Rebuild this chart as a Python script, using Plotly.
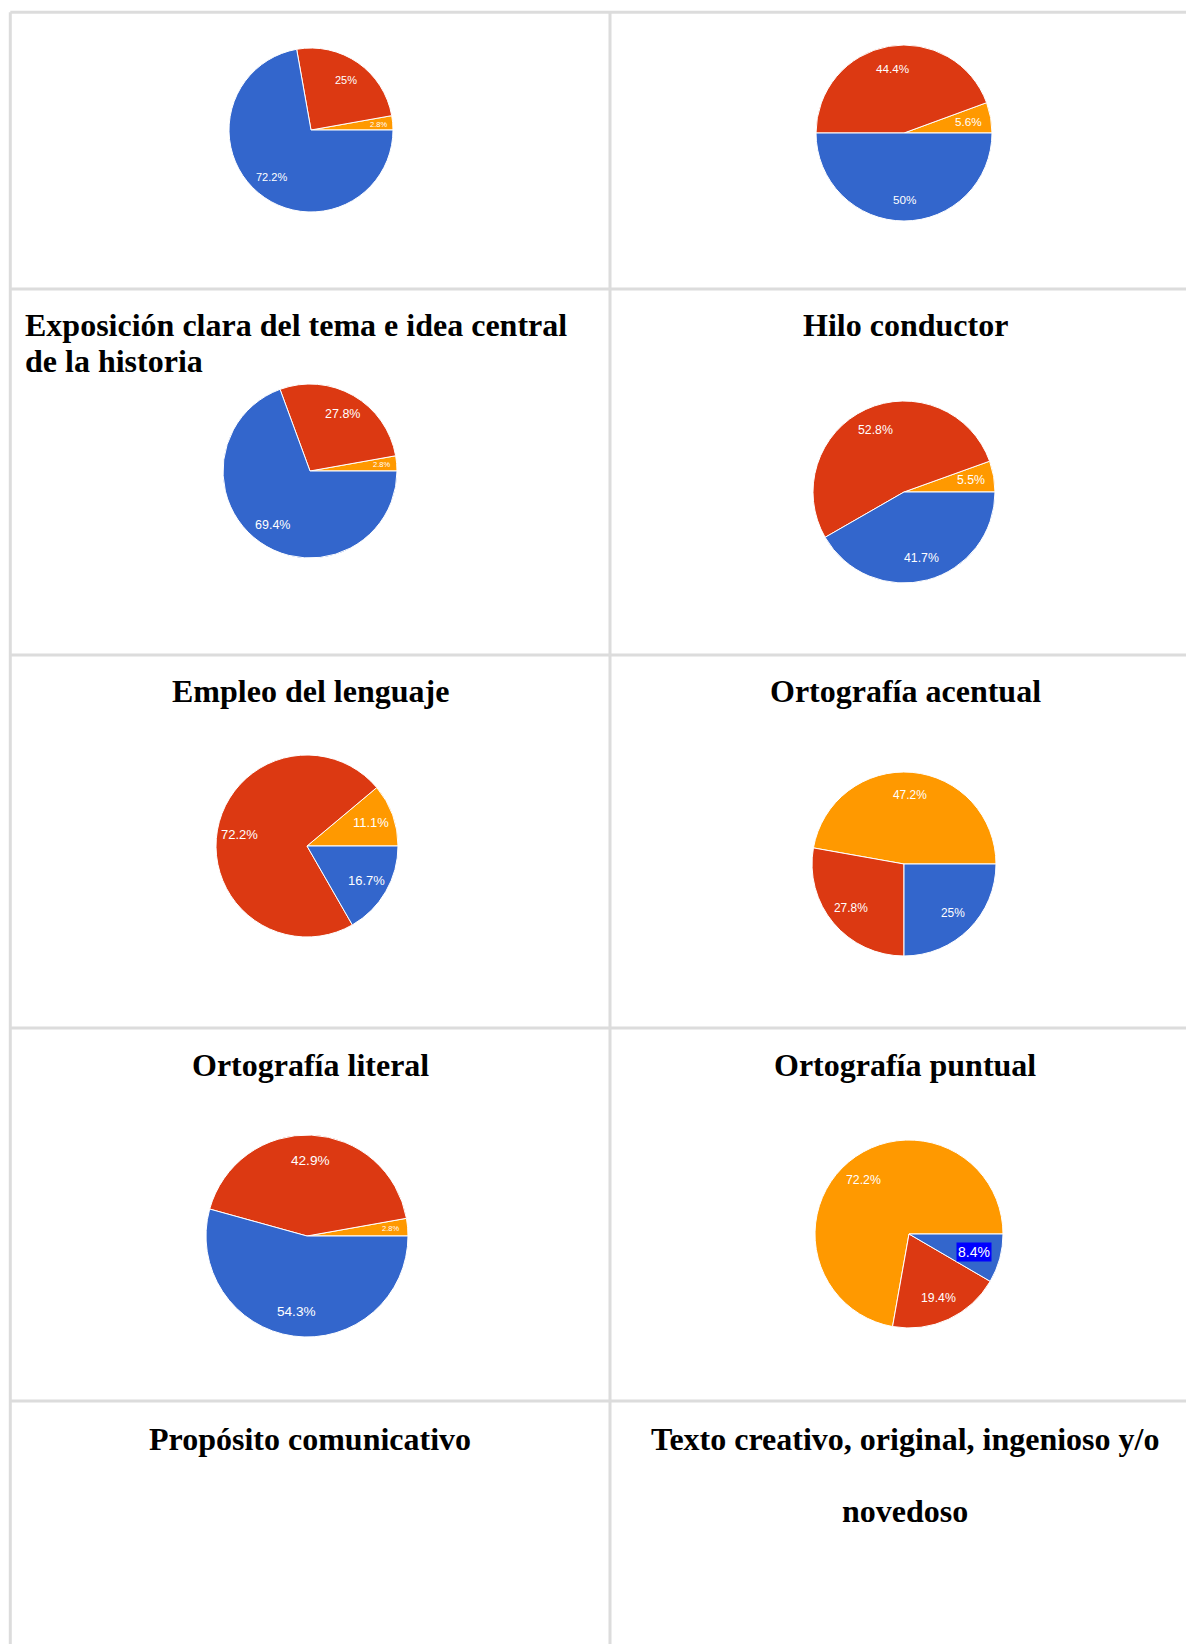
import math
import plotly.graph_objects as go

W, H = 1186, 1644

# ---------------- data ----------------
# slice order (counterclockwise from 3 o'clock): orange, red, blue
categories = ["Categoría 1", "Categoría 2", "Categoría 3"]

titles = [
    "",
    "",
    "Exposición clara del tema e idea central de la historia",
    "Hilo conductor",
    "Empleo del lenguaje",
    "Ortografía acentual",
    "Ortografía literal",
    "Ortografía puntual",
]
vals_top_left = [2.8, 25, 72.2]
vals_top_right = [5.6, 44.4, 50]
vals_exposicion = [2.8, 27.8, 69.4]
vals_hilo = [5.5, 52.8, 41.7]
vals_empleo = [11.1, 72.2, 16.7]
vals_acentual = [47.2, 27.8, 25]
vals_literal = [2.8, 42.9, 54.3]
vals_puntual = [72.2, 19.4, 8.4]

empty_titles = ["Propósito comunicativo",
                "Texto creativo, original, ingenioso y/o novedoso"]

# ---------------- style / layout ----------------
colors = ["#ff9900", "#dc3912", "#3366cc"]
# (cx, cy, r, label font size) in page pixels
pie_geom = [
    (311, 130, 82, 11),
    (904, 133, 88, 11.7),
    (310, 471, 87, 12.5),
    (904, 492, 91, 12.3),
    (307, 846, 91, 13),
    (904, 864, 92, 11.9),
    (307, 1236, 101, 13.6),
    (909, 1234, 94, 12.3),
]
all_vals = [vals_top_left, vals_top_right, vals_exposicion, vals_hilo,
            vals_empleo, vals_acentual, vals_literal, vals_puntual]
# which label is shown on a highlight box: (chart index, slice index)
highlight = (7, 2)

SERIF = "Liberation Serif, Times New Roman, serif"
SANS = "Liberation Sans, Arial, sans-serif"


def px(x):
    return x / W


def py(y):
    return 1 - y / H


fig = go.Figure()
ann = []
for i, (vals, (cx, cy, r, fs)) in enumerate(zip(all_vals, pie_geom)):
    # plotly places the first counterclockwise slice clockwise of `rotation`;
    # shift so the first slice begins at 3 o'clock and runs counterclockwise
    total = sum(vals)
    rot = 90 - vals[0] / total * 360
    fig.add_trace(go.Pie(
        labels=categories, values=vals, sort=False, direction="counterclockwise",
        rotation=rot, marker=dict(colors=colors, line=dict(color="white", width=1)),
        textinfo="none",
        domain=dict(x=[px(cx - r), px(cx + r)], y=[py(cy + r), py(cy - r)]),
        showlegend=False, hoverinfo="skip",
    ))
    # value labels, placed along each slice's bisector
    start = 0.0
    for j, v in enumerate(vals):
        span = v / total * 360
        mid = math.radians(start + span / 2)
        start += span
        small = v / total < 0.04
        hl = (i, j) == highlight
        f = 0.83 if small else (0.72 if hl else 0.75)
        size = 7.5 if small else (14 if hl else fs)
        lx = cx + f * r * math.cos(mid)
        ly = cy - f * r * math.sin(mid)
        a = dict(text=f"{v:g}%", x=px(lx), y=py(ly), xref="paper", yref="paper",
                 showarrow=False, xanchor="center", yanchor="middle",
                 font=dict(family=SANS, size=size, color="white"))
        if hl:
            a.update(bgcolor="#0000ff", borderpad=1)
        ann.append(a)

# grid lines of the table
grid = dict(color="#dcdcdc", width=3)
shapes = []
for yline in [12.3, 289, 655, 1028, 1401]:
    shapes.append(dict(type="line", xref="paper", yref="paper",
                       x0=px(10.3), x1=1.0, y0=py(yline), y1=py(yline), line=grid))
for xline in [10.3, 610]:
    shapes.append(dict(type="line", xref="paper", yref="paper",
                       x0=px(xline), x1=px(xline), y0=py(12.3), y1=0, line=grid))


def title(text, x, y, anchor="center"):
    ann.append(dict(text="<b>" + text + "</b>", x=px(x), y=py(y), xref="paper", yref="paper",
                    xanchor=anchor, yanchor="middle", showarrow=False,
                    font=dict(family=SERIF, size=32, color="black")))


# Exposición title wraps left-aligned onto two lines
words = titles[2].split(" ")
title(" ".join(words[:7]), 23, 325, "left")
title(" ".join(words[7:]), 23, 361, "left")
title(titles[3], 905, 325)
title(titles[4], 310, 691)
title(titles[5], 905, 691)
title(titles[6], 310, 1065)
title(titles[7], 905, 1065)
title(empty_titles[0], 310, 1439)
w2 = empty_titles[1].split(" ")
title(" ".join(w2[:-1]), 905, 1439)
title(w2[-1], 905, 1511)

fig.update_layout(
    width=W, height=H, margin=dict(l=0, r=0, t=0, b=0),
    paper_bgcolor="white", plot_bgcolor="white",
    shapes=shapes, annotations=ann,
)
fig.write_html("out.html", config={"displayModeBar": False})
